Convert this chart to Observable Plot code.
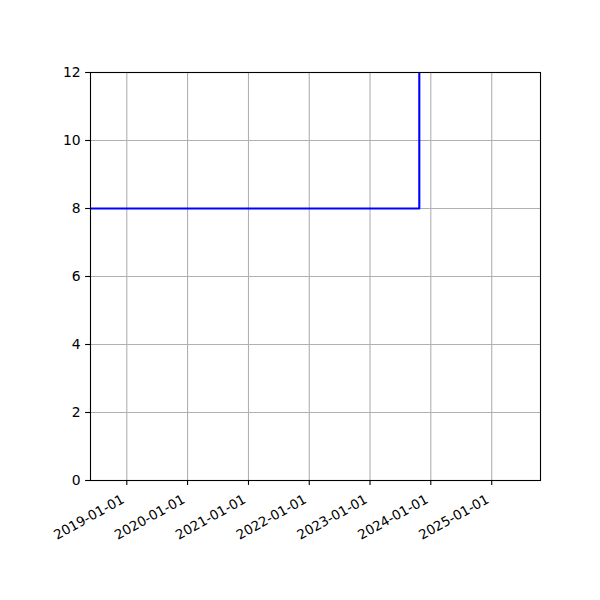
<!DOCTYPE html>
<html>
<head>
<meta charset="utf-8">
<script src="https://cdn.jsdelivr.net/npm/d3@7"></script>
<script src="https://cdn.jsdelivr.net/npm/@observablehq/plot@0.6"></script>
<style>
  html, body { margin: 0; padding: 0; background: #fff; }
  #chart { width: 600px; height: 600px; }
</style>
</head>
<body>
<div id="chart"></div>
<script>
// Step series (value held until next date)
const stepDates = ["2018-05-01", "2023-10-24", "2026-01-01"];
const stepValues = [8, 16, 16];

// Axis settings
const xDomain = ["2018-05-28", "2025-10-21"];
const yDomain = [0, 12];
const xTickLabels = ["2019-01-01", "2020-01-01", "2021-01-01", "2022-01-01", "2023-01-01", "2024-01-01", "2025-01-01"];
const yTickValues = [0, 2, 4, 6, 8, 10, 12];

const data = stepDates.map((d, i) => ({date: new Date(d), value: stepValues[i]}));
const xTicks = xTickLabels.map(d => ({date: new Date(d), label: d}));
const fs = 13.9;
const fsx = 13.4;

const chart = Plot.plot({
  width: 600,
  height: 600,
  marginLeft: 90,
  marginRight: 60,
  marginTop: 72,
  marginBottom: 120,
  style: {fontFamily: "DejaVu Sans", fontSize: fs + "px", color: "#000", background: "#fff"},
  x: {type: "utc", domain: xDomain.map(d => new Date(d))},
  y: {domain: yDomain},
  marks: [
    Plot.gridX(xTicks.map(d => d.date), {stroke: "#b0b0b0", strokeOpacity: 1, strokeWidth: 1.1}),
    Plot.gridY(yTickValues, {stroke: "#b0b0b0", strokeOpacity: 1, strokeWidth: 1.1}),
    Plot.line(data, {x: "date", y: "value", curve: "step-after", stroke: "blue", strokeWidth: 2.1, clip: true}),
    Plot.frame({stroke: "#000", strokeWidth: 1.1}),
    Plot.axisY(yTickValues, {tickSize: 4.9, tickPadding: 4.9, label: null, fontSize: fs, strokeWidth: 1.1}),
    Plot.axisX(xTicks.map(d => d.date), {tickSize: 4.9, label: null, tickFormat: () => "", strokeWidth: 1.1}),
    Plot.text(xTicks, {x: "date", text: "label", frameAnchor: "bottom", rotate: -29, textAnchor: "end", lineAnchor: "bottom", dx: -1.7, dy: 21.7, fontSize: fsx, fill: "#000"})
  ]
});
document.getElementById("chart").appendChild(chart);
</script>
</body>
</html>
